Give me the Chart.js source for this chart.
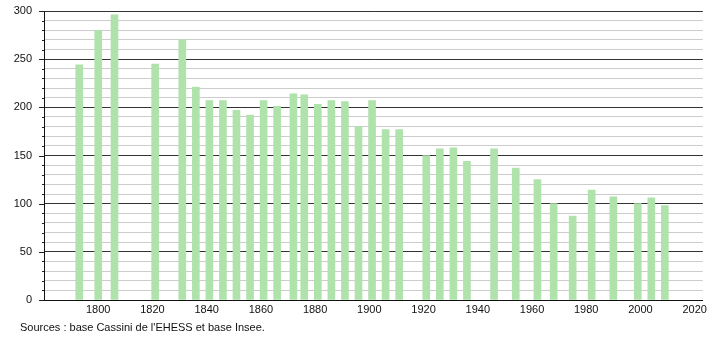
<!DOCTYPE html>
<html>
<head>
<meta charset="utf-8">
<script src="https://cdn.jsdelivr.net/npm/chart.js@4/dist/chart.umd.min.js"></script>
<style>
    html, body { margin: 0; padding: 0; background: #ffffff; }
    #wrap { width: 710px; height: 340px; }
</style>
</head>
<body>
<div id="wrap"><canvas id="chart" width="710" height="340"></canvas></div>
<script>
// census years and population
const years = [1793, 1800, 1806, 1821, 1831, 1836, 1841, 1846, 1851, 1856,
               1861, 1866, 1872, 1876, 1881, 1886, 1891, 1896, 1901, 1906,
               1911, 1921, 1926, 1931, 1936, 1946, 1954, 1962, 1968, 1975,
               1982, 1990, 1999, 2004, 2009];
const population = [244, 280, 296, 245, 270, 221, 207, 207, 197, 192,
                    207, 201, 214, 213, 203, 207, 206, 180, 207, 177,
                    177, 150, 157, 158, 144, 157, 137, 125, 100, 87,
                    114, 107, 100, 106, 98];
const xTicks = [1800, 1820, 1840, 1860, 1880, 1900, 1920, 1940, 1960, 1980, 2000, 2020];
const sourceText = "Sources : base Cassini de l'EHESS et base Insee.";

const FONT = "'Liberation Sans', Arial, sans-serif";

// y tick marks (long on multiples of 50, short otherwise) + source line
const extras = {
    id: "extras",
    afterDraw(chart)
    {
        let ctx = chart.ctx;
        let y = chart.scales.y;
        let left = chart.chartArea.left;
        ctx.save();
        ctx.strokeStyle = "#222";
        ctx.lineWidth = 1;
        for(let v = 0; v <= 300; v += 10)
        {
            let py = Math.round(y.getPixelForValue(v)) + 0.5;
            let len = (v % 50 == 0) ? 5 : 2;
            ctx.beginPath();
            ctx.moveTo(left - len, py);
            ctx.lineTo(left, py);
            ctx.stroke();
        }
        ctx.fillStyle = "#111";
        ctx.font = "11px " + FONT;
        ctx.textBaseline = "middle";
        ctx.fillText(sourceText, 20, 328);
        ctx.restore();
    }
};

new Chart(document.getElementById("chart").getContext("2d"),
{
    type: "bar",
    data:
    {
        datasets:
        [{
            data: years.map((yr, i) => ({ x: yr, y: population[i] })),
            backgroundColor: "rgb(176,226,172)",
            borderWidth: 0,
            barThickness: 7
        }]
    },
    options:
    {
        responsive: false,
        animation: false,
        layout: { padding: { left: 1, top: 11, right: 7, bottom: 0 } },
        plugins:
        {
            legend: { display: false },
            tooltip: { enabled: false }
        },
        scales:
        {
            x:
            {
                type: "linear",
                offset: false,
                min: 1780,
                max: 2023,
                afterBuildTicks: s => { s.ticks = xTicks.map(v => ({ value: v })); },
                afterFit: s => { s.height = 40; },
                grid: { display: false, drawTicks: false },
                border: { display: true, color: "#111", width: 1 },
                ticks:
                {
                    padding: 3,
                    color: "#111",
                    font: { family: FONT, size: 11 },
                    maxRotation: 0,
                    callback: v => String(v)
                }
            },
            y:
            {
                min: 0,
                max: 300,
                afterFit: s => { s.width = 43; s.paddingTop = 0; s.paddingBottom = 0; },
                ticks:
                {
                    stepSize: 10,
                    padding: 12,
                    color: "#111",
                    font: { family: FONT, size: 11 },
                    autoSkip: false,
                    callback: v => (v % 50 == 0 ? String(v) : "")
                },
                grid:
                {
                    drawTicks: false,
                    color: c => (c.tick && c.tick.value % 50 == 0) ? "#333" : "#cccccc",
                    lineWidth: 1
                },
                border: { display: true, color: "#111", width: 1 }
            }
        }
    },
    plugins: [extras]
});
</script>
</body>
</html>
